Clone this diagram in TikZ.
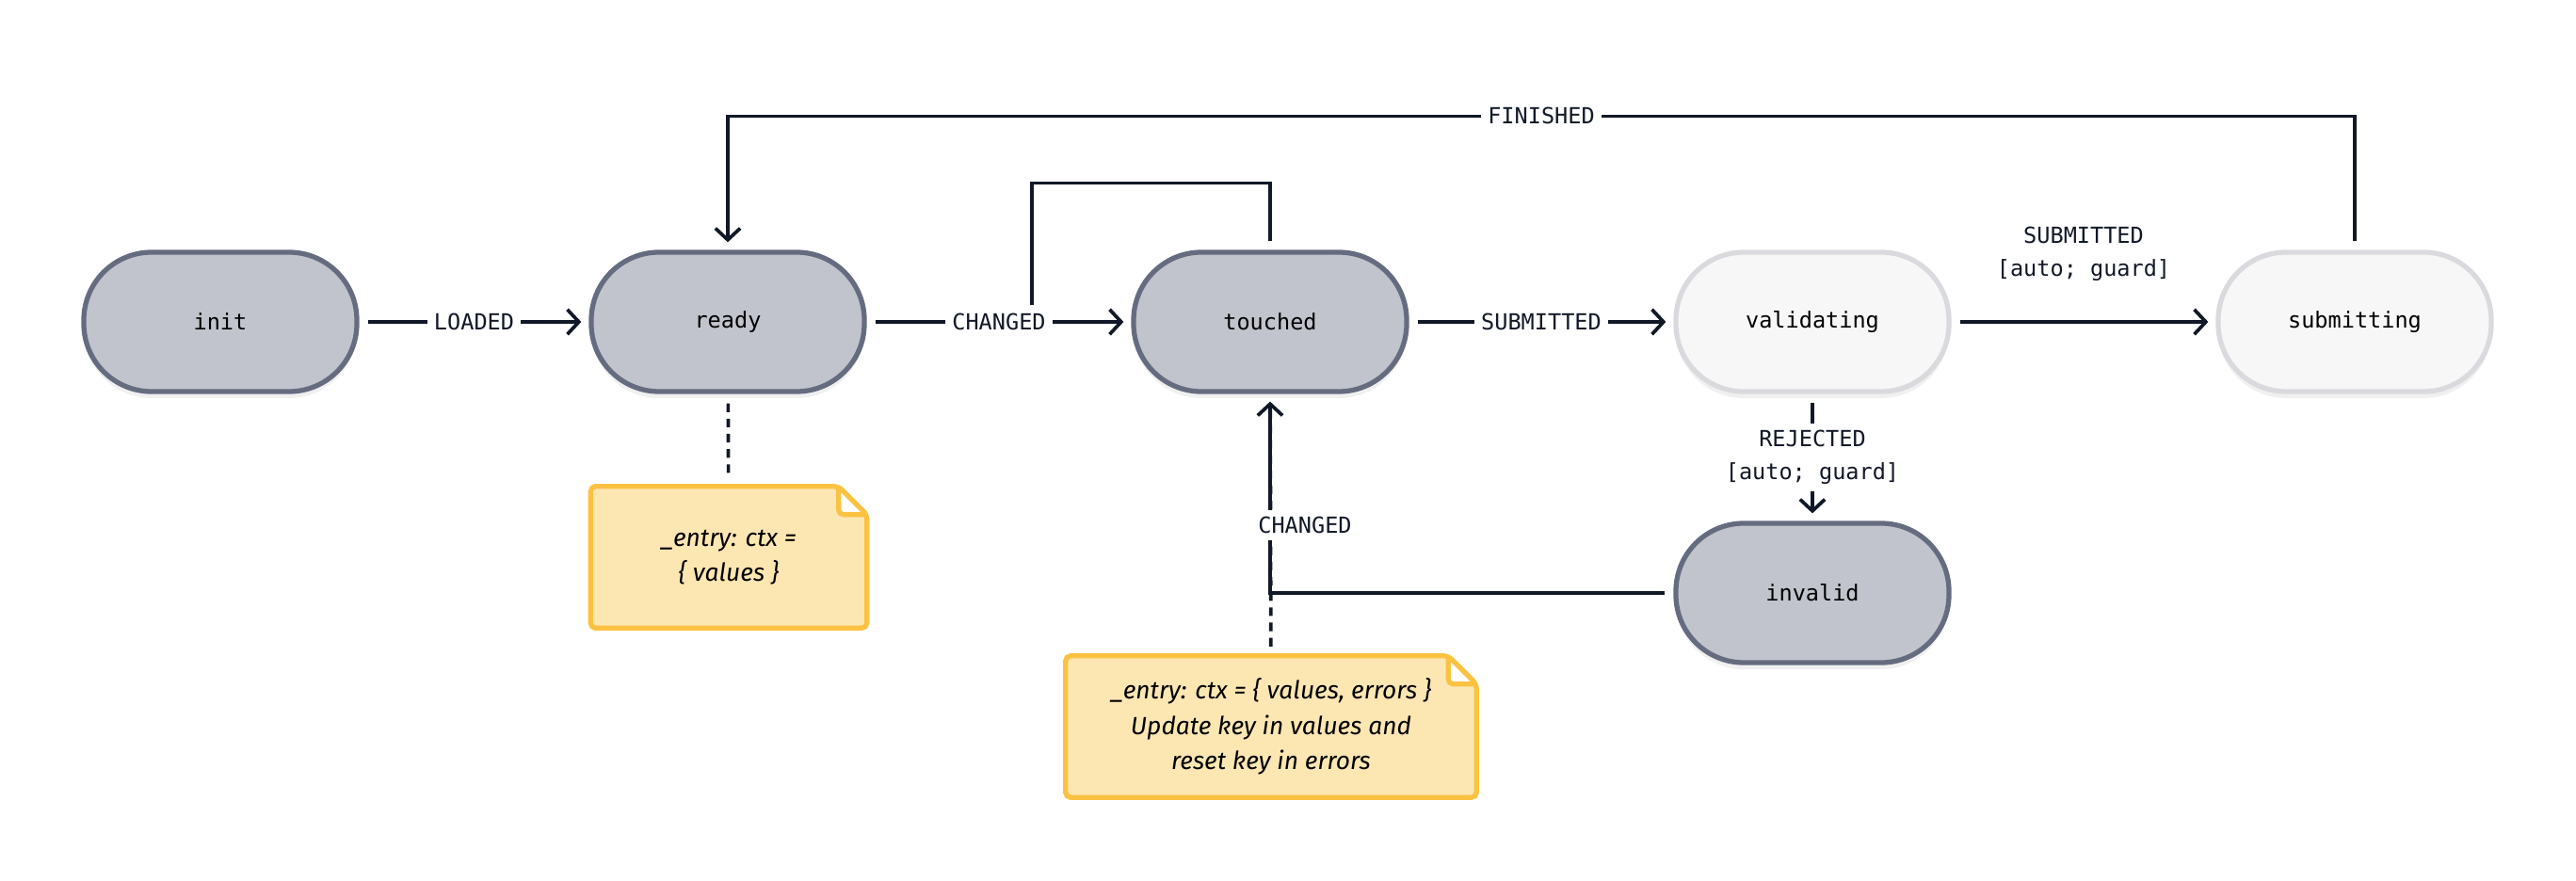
\documentclass[tikz,border=0pt]{standalone}
\usepackage{fontspec}
\setmainfont{Fira Sans}
\setmonofont{DejaVu Sans Mono}
\usetikzlibrary{positioning,arrows.meta,backgrounds,shadows}
\definecolor{stateFill}{RGB}{193,196,204}
\definecolor{stateLine}{RGB}{102,108,128}
\definecolor{idleFill}{RGB}{247,247,247}
\definecolor{idleLine}{RGB}{218,218,222}
\definecolor{noteFill}{RGB}{252,230,178}
\definecolor{noteLine}{RGB}{251,194,66}
\definecolor{wire}{RGB}{17,24,39}
\begin{document}
\begin{tikzpicture}[
    state/.style={rectangle, draw=stateLine, line width=1.5pt, fill=stateFill, minimum width=2.9cm, minimum height=1.48cm, rounded corners=0.72cm, font=\ttfamily\fontsize{6.7}{10}\selectfont, drop shadow={opacity=0.12, shadow xshift=0pt, shadow yshift=-2pt}},
    idle/.style={state, draw=idleLine, fill=idleFill},
    note/.style={minimum width=#1, minimum height=1.49cm, inner sep=0pt, align=center, font=\itshape\fontsize{7.5}{10.7}\selectfont},
    notebox/.style={fill=noteFill, draw=noteLine, line width=1.5pt, rounded corners=1.5pt},
    trans/.style={-{Straight Barb[length=3.5pt, width=7.5pt]}, line width=1.05pt, draw=wire, shorten <=0.09cm, shorten >=0.08cm},
    wireline/.style={line width=1.05pt, draw=wire},
    attach/.style={wireline, dash pattern=on 2.6pt off 2pt, shorten <=0.1cm, shorten >=0.1cm},
    lbl/.style={fill=white, inner sep=2pt, text=wire, font=\ttfamily\fontsize{6.7}{10}\selectfont, align=center}
]
    \useasboundingbox (0,0) rectangle (27.36,-9.36);

    % Etats
    \node[state] (init) at (2.34,-3.42) {init};
    \node[state] (ready) at (7.73,-3.42) {ready};
    \node[state] (touched) at (13.49,-3.42) {touched};
    \node[idle] (validating) at (19.25,-3.42) {validating};
    \node[idle] (submitting) at (25.01,-3.42) {submitting};
    \node[state] (invalid) at (19.25,-6.30) {invalid};

    % Notes
    \node[note=2.92cm] (readynote) at (7.74,-5.92) {\_entry: ctx =\\\{ values \}};
    \node[note=4.35cm] (touchednote) at (13.50,-7.72) {\_entry: ctx = \{ values, errors \}\\Update key in values and\\reset key in errors};
    \begin{scope}[on background layer]
        \foreach \n in {readynote,touchednote}
            \draw[notebox] (\n.south west) -- (\n.north west) -- ([xshift=-0.3cm]\n.north east) -- ([yshift=-0.3cm]\n.north east) -- (\n.south east) -- cycle
                ([xshift=-0.3cm]\n.north east) -- ([xshift=-0.3cm,yshift=-0.3cm]\n.north east) -- ([yshift=-0.3cm]\n.north east);
    \end{scope}
    \draw[attach] (ready) -- (readynote);
    \draw[attach] (touchednote) -- (touched);

    % Transitions
    \draw[trans] (init) -- node[lbl] {LOADED} (ready);
    \draw[trans] (ready) -- node[lbl] (changed) {CHANGED} (touched);
    \draw[wireline, shorten <=0.09cm] (touched.north) -- ++(0,0.71) -| ([xshift=0.35cm]changed.north);
    \draw[trans] (touched) -- node[lbl] {SUBMITTED} (validating);
    \draw[trans] (validating) -- node[lbl, fill=none, yshift=0.72cm] {SUBMITTED\\{[}auto; guard{]}} (submitting);
    \draw[trans] (validating) -- node[lbl] {REJECTED\\{[}auto; guard{]}} (invalid);
    \draw[trans] (invalid) -| node[lbl, pos=0.67, xshift=0.37cm] {CHANGED} (touched);
    \draw[trans] (submitting.north) -- ++(0,1.42) -| node[lbl, pos=0.25] {FINISHED} (ready.north);

\end{tikzpicture}
\end{document}
